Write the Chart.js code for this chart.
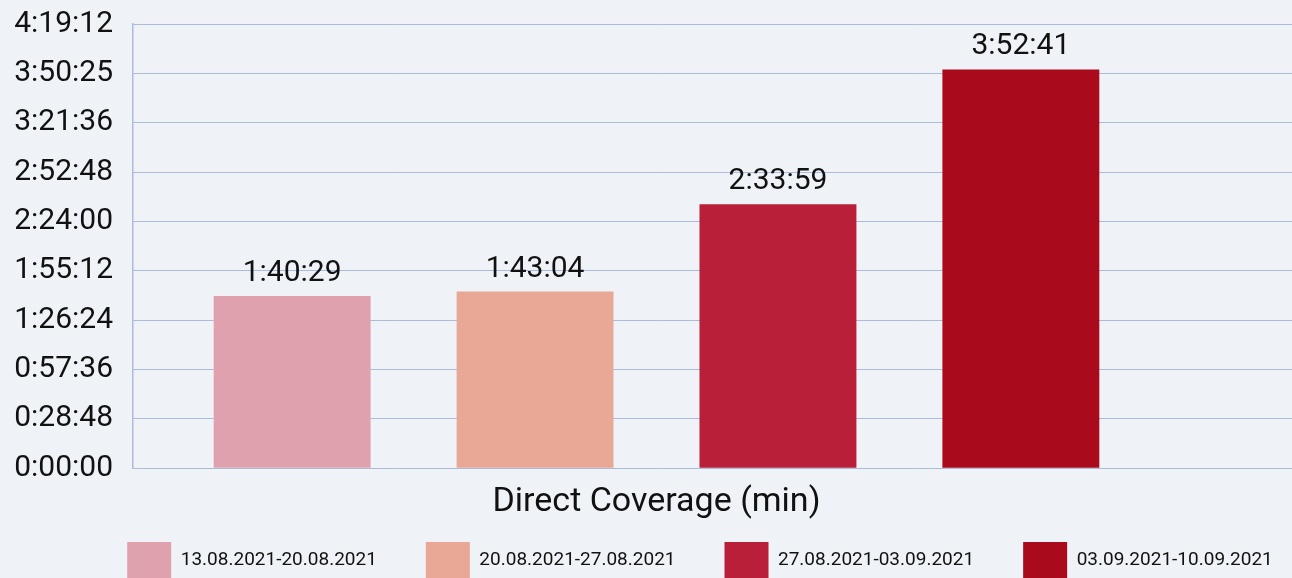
<!DOCTYPE html>
<html>
<head>
<meta charset="utf-8">
<script src="https://cdn.jsdelivr.net/npm/chart.js@4.4.1/dist/chart.umd.min.js"></script>
<style>
  html, body { margin: 0; padding: 0; background: #eff3f7; overflow: hidden; }
  #wrap { width: 1292px; height: 578px; }
</style>
</head>
<body>
<div id="wrap"><canvas id="coverageChart" width="1292" height="578"></canvas></div>
<script>
// durations in seconds
const weeks = ['13.08.2021-20.08.2021', '20.08.2021-27.08.2021', '27.08.2021-03.09.2021', '03.09.2021-10.09.2021'];
const coverage = [6029, 6184, 9239, 13961];
const barColors = ['#dfa1ad', '#e9a796', '#b91f39', '#a90b1c'];
const category = 'Direct Coverage (min)';
const tickLabels = ['0:00:00', '0:28:48', '0:57:36', '1:26:24', '1:55:12', '2:24:00', '2:52:48', '3:21:36', '3:50:25', '4:19:12'];
const yMax = 15552;
const yStep = 1728;

const gridColor = '#adbbdb';
const fontFamily = 'Roboto, "Liberation Sans", sans-serif';

function fmtDuration(sec) {
    const h = Math.floor(sec / 3600);
    const m = Math.floor((sec % 3600) / 60);
    const s = sec % 60;
    return h + ':' + String(m).padStart(2, '0') + ':' + String(s).padStart(2, '0');
}

// labels above bars
const valueLabels = {
    id: 'valueLabels',
    afterDatasetsDraw(chart) {
        const ctx = chart.ctx;
        ctx.save();
        ctx.font = '30px ' + fontFamily;
        ctx.fillStyle = '#111';
        ctx.textAlign = 'center';
        ctx.textBaseline = 'alphabetic';
        chart.data.datasets.forEach((ds, i) => {
            const bar = chart.getDatasetMeta(i).data[0];
            ctx.fillText(fmtDuration(ds.data[0]), bar.x, bar.y - 15);
        });
        ctx.restore();
    }
};

// legend row sits a bit right of the canvas centre in the original
const legendShift = {
    id: 'legendShift',
    afterLayout(chart) {
        chart.legend.left += 54;
        chart.legend.right += 54;
    }
};

const ctx = document.getElementById('coverageChart').getContext('2d');
const coverageChart = new Chart(ctx, {
    type: 'bar',
    data: {
        labels: [category],
        datasets: weeks.map((w, i) => ({
            label: w,
            data: [coverage[i]],
            backgroundColor: barColors[i],
            borderWidth: 0,
            barPercentage: 0.646,
            categoryPercentage: 0.928
        }))
    },
    options: {
        responsive: false,
        animation: false,
        layout: {
            padding: { left: 0, right: 0, top: 24, bottom: -10 }
        },
        plugins: {
            legend: {
                position: 'bottom',
                labels: {
                    boxWidth: 44,
                    boxHeight: 36,
                    padding: 49,
                    color: '#111',
                    font: { family: fontFamily, size: 19 }
                }
            },
            tooltip: { enabled: false }
        },
        scales: {
            x: {
                grid: { display: false, drawTicks: false },
                border: { display: false },
                ticks: { display: false },
                title: {
                    display: true,
                    text: category,
                    color: '#111',
                    font: { family: fontFamily, size: 34 },
                    padding: { top: 14, bottom: -30 }
                }
            },
            y: {
                min: 0,
                max: yMax,
                afterFit: (scale) => { scale.width = 133; },
                ticks: {
                    stepSize: yStep,
                    padding: 0,
                    color: '#111',
                    font: { family: fontFamily, size: 30 },
                    callback: (v, i) => tickLabels[i]
                },
                grid: { color: gridColor, lineWidth: 1, drawTicks: true, tickLength: 20, tickColor: 'rgba(0,0,0,0)' },
                border: { color: gridColor, width: 1.5 }
            },
            y2: {
                position: 'right',
                min: 0,
                max: yMax,
                ticks: { display: false, stepSize: yStep },
                grid: { color: gridColor, lineWidth: 1, drawOnChartArea: false, drawTicks: true, tickLength: 112 },
                border: { display: false }
            }
        }
    },
    plugins: [valueLabels, legendShift]
});
</script>
</body>
</html>
